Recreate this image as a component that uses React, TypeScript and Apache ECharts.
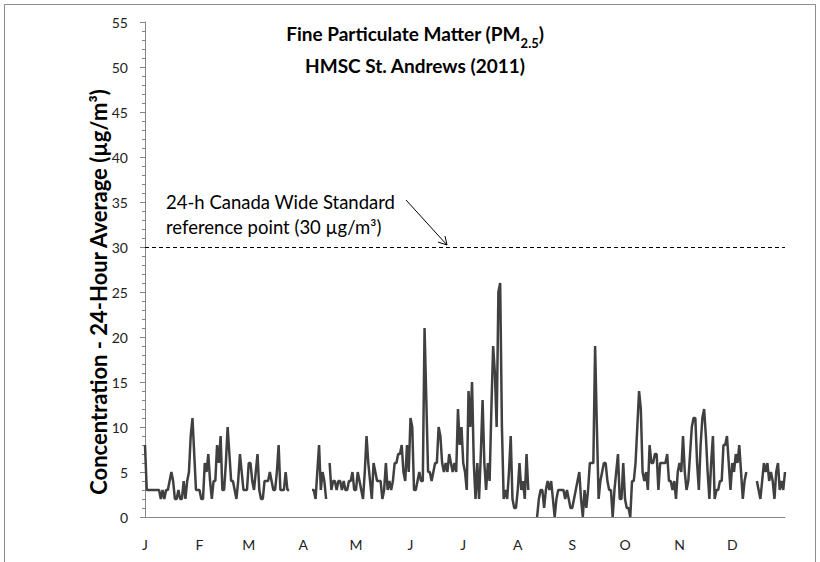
import React, { useEffect, useRef } from "react";
import * as echarts from "echarts";

const monthLetters = ["J", "F", "M", "A", "M", "J", "J", "A", "S", "O", "N", "D"];
const monthLengths = [31, 28, 31, 30, 31, 30, 31, 31, 30, 31, 30, 31];

const jan = [8, 3, 3, 3, 3, 3, 3, 3, 3, 2, 3, 2, 3, 3, 4, 5, 4, 2, 2, 3, 2, 2, 4, 2, 4, 5, 9, 11, 7, 3, 3];
const feb = [3, 2, 2, 6, 5, 7, 4, 2, 4, 4, 8, 6, 9, 3, 3, 6, 10, 7, 4, 4, 3, 2, 4, 7, 5, 3, 3, 3];
const mar = [6, 6, 4, 3, 5, 7, 3, 2, 2, 4, 4, 4, 5, 4, 3, 3, 5, 8, 3, 3, 3, 5, 3, 3, null, null, null, null, null, null, null];
const apr = [null, null, null, null, null, 3, 3, 2, 5, 8, 3, 5, 4, 2, null, 6, 3, 4, 4, 3, 4, 4, 3, 4, 3, 3, 4, 4, 5, 3];
const may = [3, 5, 4, 3, 2, 5, 9, 6, 4, 2, 6, 5, 4, 4, 4, 2, 3, 6, 3, 4, 3, 4, 6, 6, 7, 7, 8, 5, 4, 8, 5];
const jun = [11, 10, 3, 3, 4, 5, 4, 4, 21, 13, 5, 5, 4, 5, 6, 6, 10, 9, 6, 5, 6, 5, 7, 6, 5, 6, 5, 12, 8, 10];
const jul = [6, 5, 3, 14, 10, 15, 6, 2, 6, 2, 7, 13, 6, 3, 6, 4, 12, 19, 16, 10, 25, 26, 10, 2, 3, 2, 5, 9, 2, 1, 1];
const aug = [3, 6, 3, 4, 2, 7, 3, null, null, null, null, 0, 2, 3, 3, 1, 3, 4, 3, 4, 2, 0, 2, 3, 3, 3, 3, 2, 3, 2, 1];
const sep = [1, 2, 3, 4, 5, 2, 0, 3, 1, 3, 6, 6, 6, 19, 10, 2, 4, 5, 6, 6, 4, 3, 3, 0, 3, 5, 7, 2, 2, 6];
const oct = [2, 1, 1, 0, 4, 4, 6, 10, 14, 12, 5, 4, 5, 3, 8, 6, 6, 7, 7, 3, 6, 6, 6, 6, 7, 4, 4, 3, 4, 2, 5];
const nov = [6, 5, 9, 5, 3, 4, 7, 10, 11, 11, 6, 3, 8, 11, 12, 9, 5, 2, 6, 9, 2, 3, 3, 4, 4, 8, 8, 9, 6, 3];
const dec = [6, 5, 7, 6, 8, 5, 2, 4, 5, null, null, null, null, null, 4, 3, 2, 4, 6, 5, 6, 4, 5, 4, 2, 5, 6, 3, 4, 3, 5];

const standardValue = 30;

const titleLine1 = "Fine Particulate Matter (PM";
const titleSub = "2.5";
const titleLine2 = "HMSC St. Andrews (2011)";
const yAxisTitle = "Concentration - 24-Hour Average (µg/m³)";
const noteLine1 = "24-h Canada Wide Standard";
const noteLine2 = "reference point (30 µg/m³)";

const FONT = "Lato, 'Open Sans', sans-serif";

export default function App() {
  const ref = useRef<HTMLDivElement>(null);

  useEffect(() => {
    document.body.style.margin = "0";
    if (!ref.current) return;
    const chart = echarts.init(ref.current, null, { renderer: "svg" });

    const values = [...jan, ...feb, ...mar, ...apr, ...may, ...jun, ...jul, ...aug, ...sep, ...oct, ...nov, ...dec];
    const categories: string[] = [];
    const monthStart: Record<number, string> = {};
    let idx = 0;
    monthLengths.forEach((len, m) => {
      monthStart[idx] = monthLetters[m];
      for (let d = 1; d <= len; d++) {
        categories.push(`2011-${String(m + 1).padStart(2, "0")}-${String(d).padStart(2, "0")}`);
      }
      idx += len;
    });

    chart.setOption({
      animation: false,
      backgroundColor: "#ffffff",
      title: {
        left: 410,
        textAlign: "center",
        top: 12,
        text: `{b|${titleLine1}}{s|${titleSub}}{b|)}\n{b|${titleLine2}}`,
        textStyle: {
          rich: {
            b: { fontFamily: FONT, fontWeight: "bold", fontSize: 19, color: "#000", lineHeight: 32 },
            s: { fontFamily: FONT, fontWeight: "bold", fontSize: 13, color: "#000", verticalAlign: "bottom", lineHeight: 32, padding: [9, 0, 0, 0] },
          },
        },
      },
      grid: { left: 145, right: 35, top: 22, bottom: 45, containLabel: false },
      xAxis: {
        type: "category",
        data: categories,
        boundaryGap: false,
        axisLine: { lineStyle: { color: "#868686", width: 1 } },
        axisTick: { show: false },
        axisLabel: {
          interval: (i: number) => monthStart[i] !== undefined,
          formatter: (_v: string, i: number) => monthStart[i] ?? "",
          fontFamily: FONT,
          fontSize: 14,
          color: "#222",
          margin: 20,
        },
        splitLine: { show: false },
      },
      yAxis: {
        type: "value",
        min: 0,
        max: 55,
        interval: 5,
        axisLine: { show: true, lineStyle: { color: "#868686", width: 1 } },
        axisTick: { show: true, length: 5, lineStyle: { color: "#868686" } },
        minorTick: { show: true, splitNumber: 5, length: 3, lineStyle: { color: "#868686" } },
        axisLabel: { fontFamily: FONT, fontSize: 14, color: "#222", margin: 17 },
        splitLine: { show: false },
      },
      series: [
        {
          type: "line",
          data: values,
          showSymbol: false,
          connectNulls: false,
          lineStyle: { color: "#404040", width: 2.5 },
          itemStyle: { color: "#404040" },
          markLine: {
            silent: true,
            symbol: ["none", "none"],
            label: { show: false },
            lineStyle: { color: "#000", type: [4, 3], width: 1 },
            data: [{ yAxis: standardValue }],
          },
        },
      ],
      graphic: [
        {
          type: "rect",
          shape: { x: 4.5, y: 4.5, width: 811, height: 600 },
          style: { fill: "none", stroke: "#8c8c8c", lineWidth: 1 },
          silent: true,
        },
        {
          type: "text",
          x: 98,
          y: 292,
          rotation: Math.PI / 2,
          style: {
            text: yAxisTitle,
            font: `bold 22px ${FONT}`,
            fill: "#000",
            textAlign: "center",
            textVerticalAlign: "middle",
          },
        },
        {
          type: "text",
          left: 166,
          top: 189,
          style: {
            text: `${noteLine1}\n${noteLine2}`,
            font: `18.5px ${FONT}`,
            fill: "#000",
            lineHeight: 25,
          },
        },
        {
          type: "line",
          shape: { x1: 406, y1: 200, x2: 447, y2: 245 },
          style: { stroke: "#000", lineWidth: 1 },
        },
        {
          type: "polyline",
          shape: { points: [[438, 242], [447, 245], [445, 236]] },
          style: { stroke: "#000", lineWidth: 1, fill: "none" },
        },
      ],
    });

    return () => chart.dispose();
  }, []);

  return <div ref={ref} style={{ width: 820, height: 562 }} />;
}
